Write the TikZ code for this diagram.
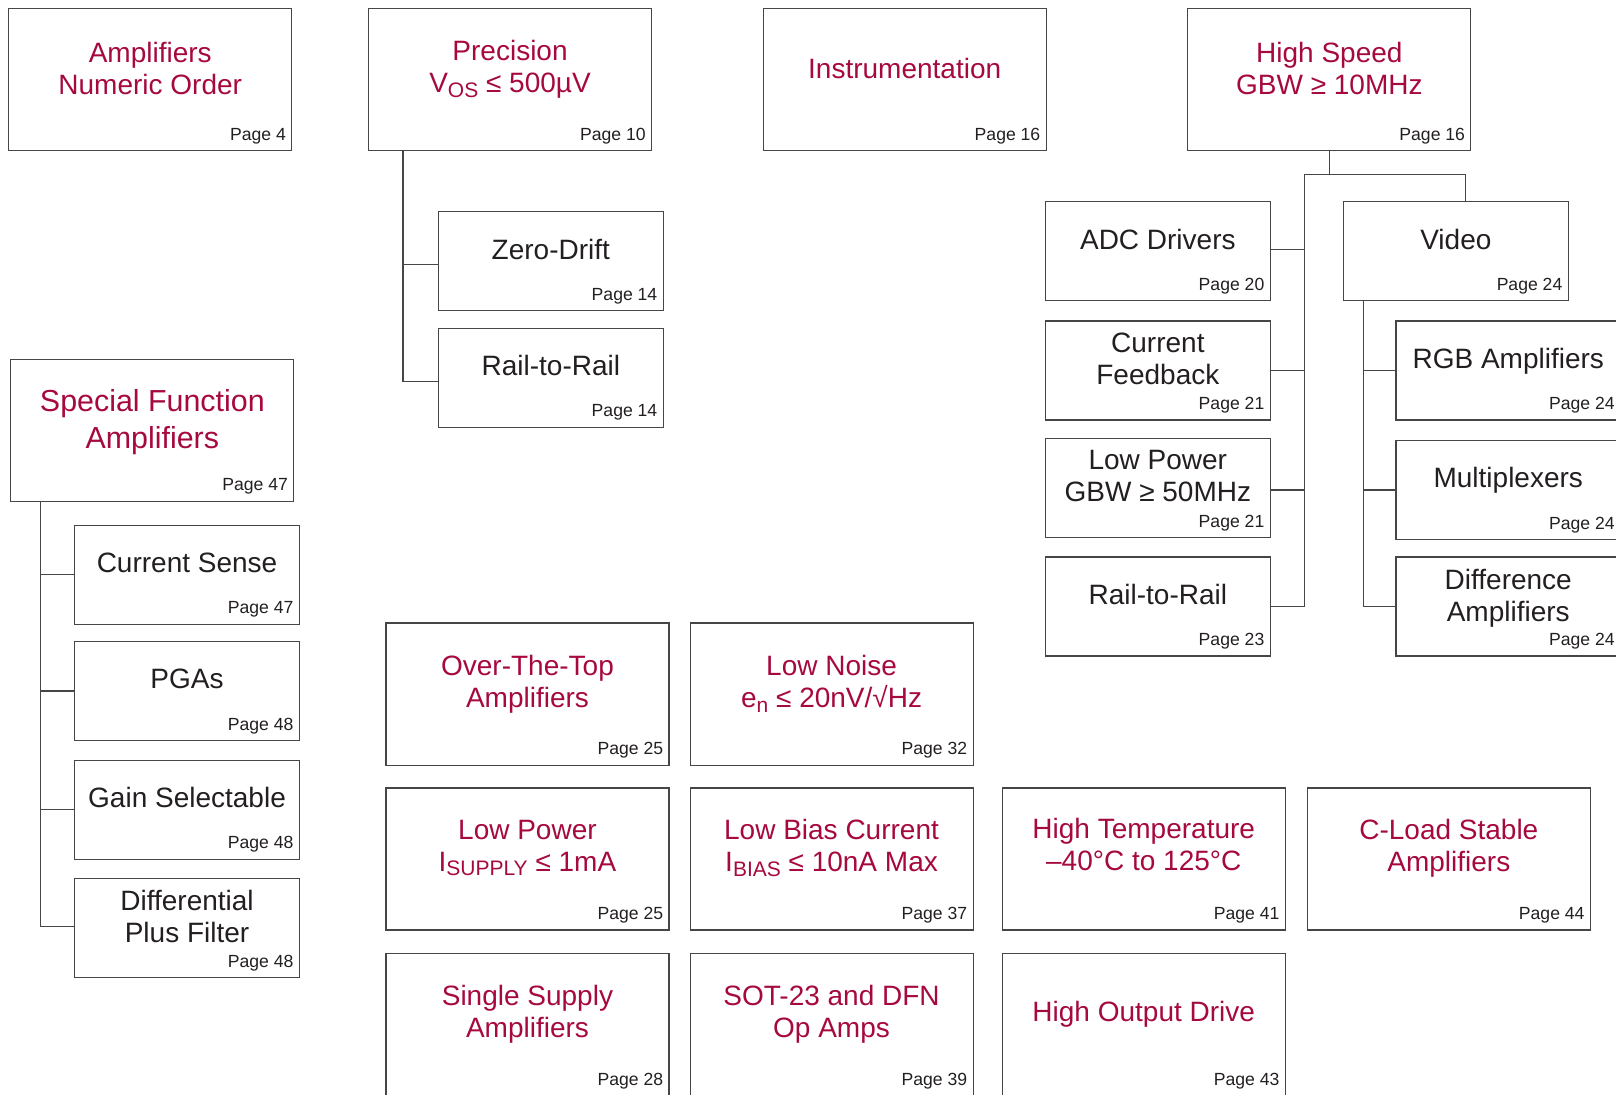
\documentclass[tikz,border=0pt]{standalone}
\usepackage{fontspec}
\setmainfont{Liberation Sans}
\usetikzlibrary{calc}

\definecolor{ltred}{RGB}{166,10,61}
\definecolor{textgray}{RGB}{35,31,32}
\definecolor{boxgray}{RGB}{70,70,70}

% lowered subscript in text
\newcommand{\lowsub}[1]{\raisebox{-0.32ex}{\fontsize{10.5}{10.5}\selectfont #1}}

\tikzset{
  bigbox/.style={draw=boxgray, line width=0.55pt, minimum width=141.5pt, minimum height=71pt, anchor=north west, inner sep=0pt},
  smallbox/.style={bigbox, minimum width=112.3pt, minimum height=49.5pt},
  redtitle/.style={text=ltred, align=center, inner sep=0pt, font=\fontsize{14}{16}\selectfont},
  blacktitle/.style={redtitle, text=textgray},
  pagelabel/.style={anchor=base east, text=textgray, inner sep=0pt, font=\fontsize{8.8}{10}\selectfont},
  treeline/.style={draw=boxgray, line width=0.55pt},
}

\begin{document}
\begin{tikzpicture}[x=0.5pt, y=-0.5pt]
    \useasboundingbox (0,0) rectangle (1616,1095);

    % Top row of categories
    \node[bigbox] (numeric) at (8.2,8.2) {};
    \node[redtitle] at ([yshift=5.5pt]numeric.center) {Amplifiers\\Numeric Order};
    \node[pagelabel] at ([shift={(-3pt,5.5pt)}]numeric.south east) {Page 4};

    \node[bigbox] (precision) at (368,8.2) {};
    \node[redtitle] at ([yshift=5pt]precision.center) {Precision\\V\lowsub{OS} ≤ 500µV};
    \node[pagelabel] at ([shift={(-3pt,5.5pt)}]precision.south east) {Page 10};

    \node[bigbox] (instr) at (762.6,8.2) {};
    \node[redtitle] at ([yshift=5.5pt]instr.center) {Instrumentation};
    \node[pagelabel] at ([shift={(-3pt,5.5pt)}]instr.south east) {Page 16};

    \node[bigbox] (highspeed) at (1187.3,8.2) {};
    \node[redtitle] at ([yshift=5.5pt]highspeed.center) {High Speed\\GBW ≥ 10MHz};
    \node[pagelabel] at ([shift={(-3pt,5.5pt)}]highspeed.south east) {Page 16};

    % Precision sub-categories
    \node[smallbox] (zerodrift) at (438,211.3) {};
    \node[blacktitle] at ([yshift=6pt]zerodrift.center) {Zero-Drift};
    \node[pagelabel] at ([shift={(-3pt,5.5pt)}]zerodrift.south east) {Page 14};

    \node[smallbox] (precrail) at (438,327.7) {};
    \node[blacktitle] at ([yshift=6pt]precrail.center) {Rail-to-Rail};
    \node[pagelabel] at ([shift={(-3pt,5.5pt)}]precrail.south east) {Page 14};

    % High Speed sub-categories
    \node[smallbox] (adc) at (1045,201) {};
    \node[blacktitle] at ([yshift=6pt]adc.center) {ADC Drivers};
    \node[pagelabel] at ([shift={(-3pt,5.5pt)}]adc.south east) {Page 20};

    \node[smallbox] (curfb) at (1045,320.5) {};
    \node[blacktitle] at ([yshift=6pt]curfb.center) {Current\\Feedback};
    \node[pagelabel] at ([shift={(-3pt,5.5pt)}]curfb.south east) {Page 21};

    \node[smallbox] (lowpowgbw) at (1045,438) {};
    \node[blacktitle] at ([yshift=6pt]lowpowgbw.center) {Low Power\\GBW ≥ 50MHz};
    \node[pagelabel] at ([shift={(-3pt,5.5pt)}]lowpowgbw.south east) {Page 21};

    \node[smallbox] (hsrail) at (1045,556.5) {};
    \node[blacktitle] at ([yshift=6pt]hsrail.center) {Rail-to-Rail};
    \node[pagelabel] at ([shift={(-3pt,5.5pt)}]hsrail.south east) {Page 23};

    \node[smallbox] (video) at (1343,201) {};
    \node[blacktitle] at ([yshift=6pt]video.center) {Video};
    \node[pagelabel] at ([shift={(-3pt,5.5pt)}]video.south east) {Page 24};

    \node[smallbox] (rgb) at (1395.4,320.5) {};
    \node[blacktitle] at ([yshift=4.5pt]rgb.center) {RGB Amplifiers};
    \node[pagelabel] at ([shift={(-3pt,5.5pt)}]rgb.south east) {Page 24};

    \node[smallbox] (mux) at (1395.4,440) {};
    \node[blacktitle] at ([yshift=5pt]mux.center) {Multiplexers};
    \node[pagelabel] at ([shift={(-3pt,5.5pt)}]mux.south east) {Page 24};

    \node[smallbox] (diffamp) at (1395.4,556.5) {};
    \node[blacktitle] at ([yshift=4.2pt]diffamp.center) {Difference\\Amplifiers};
    \node[pagelabel] at ([shift={(-3pt,5.5pt)}]diffamp.south east) {Page 24};

    % Special function and its sub-categories
    \node[bigbox] (special) at (10.3,358.6) {};
    \node[redtitle, font=\fontsize{15.2}{18.5}\selectfont] at ([yshift=4pt]special.center) {Special Function\\Amplifiers};
    \node[pagelabel] at ([shift={(-3pt,5.5pt)}]special.south east) {Page 47};

    \node[smallbox] (cursense) at (74.2,524.6) {};
    \node[blacktitle] at ([yshift=6pt]cursense.center) {Current Sense};
    \node[pagelabel] at ([shift={(-3pt,5.5pt)}]cursense.south east) {Page 47};

    \node[smallbox] (pgas) at (74.2,641) {};
    \node[blacktitle] at ([yshift=6pt]pgas.center) {PGAs};
    \node[pagelabel] at ([shift={(-3pt,5.5pt)}]pgas.south east) {Page 48};

    \node[smallbox] (gainsel) at (74.2,759.5) {};
    \node[blacktitle] at ([yshift=6pt]gainsel.center) {Gain Selectable};
    \node[pagelabel] at ([shift={(-3pt,5.5pt)}]gainsel.south east) {Page 48};

    \node[smallbox] (difffilter) at (74.2,878) {};
    \node[blacktitle] at ([yshift=6pt]difffilter.center) {Differential\\Plus Filter};
    \node[pagelabel] at ([shift={(-3pt,5.5pt)}]difffilter.south east) {Page 48};

    % Lower grid of categories
    \node[bigbox] (ott) at (385.4,622.5) {};
    \node[redtitle] at ([yshift=5pt]ott.center) {Over-The-Top\\Amplifiers};
    \node[pagelabel] at ([shift={(-3pt,5.5pt)}]ott.south east) {Page 25};

    \node[bigbox] (lownoise) at (689.5,622.5) {};
    \node[redtitle] at ([yshift=5pt]lownoise.center) {Low Noise\\e\lowsub{n} ≤ 20nV/√Hz};
    \node[pagelabel] at ([shift={(-3pt,5.5pt)}]lownoise.south east) {Page 32};

    \node[bigbox] (lowpower) at (385.4,787.4) {};
    \node[redtitle] at ([yshift=5.5pt]lowpower.center) {Low Power\\I\lowsub{SUPPLY} ≤ 1mA};
    \node[pagelabel] at ([shift={(-3pt,5.5pt)}]lowpower.south east) {Page 25};

    \node[bigbox] (lowbias) at (689.5,787.4) {};
    \node[redtitle] at ([yshift=5.5pt]lowbias.center) {Low Bias Current\\I\lowsub{BIAS} ≤ 10nA Max};
    \node[pagelabel] at ([shift={(-3pt,5.5pt)}]lowbias.south east) {Page 37};

    \node[bigbox] (hightemp) at (1001.7,787.4) {};
    \node[redtitle] at ([yshift=7pt]hightemp.center) {High Temperature\\–40°C to 125°C};
    \node[pagelabel] at ([shift={(-3pt,5.5pt)}]hightemp.south east) {Page 41};

    \node[bigbox] (cload) at (1306.8,787.4) {};
    \node[redtitle] at ([yshift=5.5pt]cload.center) {C-Load Stable\\Amplifiers};
    \node[pagelabel] at ([shift={(-3pt,5.5pt)}]cload.south east) {Page 44};

    \node[bigbox] (single) at (385.4,953.3) {};
    \node[redtitle] at ([yshift=5.5pt]single.center) {Single Supply\\Amplifiers};
    \node[pagelabel] at ([shift={(-3pt,5.5pt)}]single.south east) {Page 28};

    \node[bigbox] (sot) at (689.5,953.3) {};
    \node[redtitle] at ([yshift=5.5pt]sot.center) {SOT-23 and DFN\\Op Amps};
    \node[pagelabel] at ([shift={(-3pt,5.5pt)}]sot.south east) {Page 39};

    \node[bigbox] (highout) at (1001.7,953.3) {};
    \node[redtitle] at ([yshift=5.5pt]highout.center) {High Output Drive};
    \node[pagelabel] at ([shift={(-3pt,5.5pt)}]highout.south east) {Page 43};

    % Tree lines for Precision
    \coordinate (prec trunk) at ([xshift=17.5pt]precision.south west);
    \draw[treeline] (prec trunk) |- ([yshift=-1.5pt]zerodrift.west);
    \draw[treeline] (prec trunk) |- ([yshift=-1.8pt]precrail.west);

    % Tree lines for High Speed
    \coordinate (hs left) at (1304.7,174.3);
    \coordinate (hs right) at (1465.5,174.3);
    \draw[treeline] (highspeed.south) -- (highspeed.south |- hs left);
    \draw[treeline] (hs left) -- (hs right) -- (hs right |- video.north);
    \draw[treeline] (hs left) |- ([yshift=0.8pt]adc.east);
    \draw[treeline] (hs left) |- (curfb.east);
    \draw[treeline] (hs left) |- ([yshift=-1pt]lowpowgbw.east);
    \draw[treeline] (hs left) |- (hsrail.east);

    % Tree lines for Video
    \coordinate (vid trunk) at ([xshift=10.3pt]video.south west);
    \draw[treeline] (vid trunk) |- (rgb.west);
    \draw[treeline] (vid trunk) |- (mux.west);
    \draw[treeline] (vid trunk) |- (diffamp.west);

    % Tree lines for Special Function
    \coordinate (sf trunk) at ([xshift=15pt]special.south west);
    \draw[treeline] (sf trunk) |- (cursense.west);
    \draw[treeline] (sf trunk) |- (pgas.west);
    \draw[treeline] (sf trunk) |- (gainsel.west);
    \draw[treeline] (sf trunk) |- ([yshift=0.8pt]difffilter.west);
\end{tikzpicture}
\end{document}
